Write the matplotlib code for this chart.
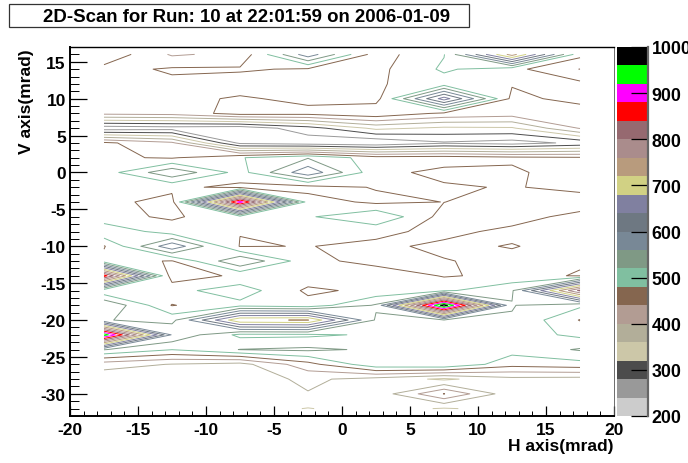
import numpy as np
import matplotlib
matplotlib.use("Agg")
import matplotlib.pyplot as plt
from matplotlib.colors import ListedColormap, BoundaryNorm
from matplotlib.patches import Rectangle
from matplotlib.ticker import MultipleLocator

plt.rcParams['font.family'] = ['Liberation Sans', 'DejaVu Sans']
plt.rcParams['font.weight'] = 'bold'
plt.rcParams['axes.unicode_minus'] = False

W, H = 688, 464

h_centers = [-17.5, -12.5, -7.5, -2.5, 2.5, 7.5, 12.5, 17.5]
v_centers = [16, 14, 12, 10, 8, 6, 4, 2, 0, -2, -4, -6, -8, -10, -12, -14,
             -16, -18, -20, -22, -24, -26, -28, -30, -32]

# scan values per V row
row_p16 = [470, 395, 410, 585, 420, 478, 740, 452]
row_p14 = [427, 445, 445, 435, 428, 487, 452, 399]
row_p12 = [425, 432, 420, 425, 436, 460, 443, 450]
row_p10 = [425, 428, 445, 430, 425, 660, 430, 452]
row_p08 = [410, 415, 456, 452, 470, 432, 420, 420]
row_p06 = [215, 222, 213, 262, 330, 312, 315, 403]
row_p04 = [448, 408, 230, 215, 205, 235, 222, 250]
row_p02 = [446, 436, 477, 517, 458, 460, 450, 445]
row_000 = [460, 552, 464, 590, 452, 429, 430, 470]
row_m02 = [455, 449, 430, 425, 442.5, 445, 437, 452]
row_m04 = [450, 428, 900, 460, 431, 440.5, 422, 418]
row_m06 = [450, 435, 462, 475, 518, 424, 425, 452]
row_m08 = [515, 457, 441, 450, 449, 430, 449, 455]
row_m10 = [437, 590, 438, 441, 432, 448, 438, 455]
row_m12 = [452, 438, 558, 453, 425, 438, 450, 443]
row_m14 = [860, 418, 448, 464, 468, 437, 448, 438]
row_m16 = [449, 467, 502, 432, 450, 472, 515, 810]
row_m18 = [560, 438, 468, 455, 525, 985, 522, 488]
row_m20 = [522, 508, 715, 722, 515, 518, 517, 438]
row_m22 = [945, 555, 470, 472, 486, 503, 500, 470]
row_m24 = [522, 481, 521, 528, 514, 505, 495, 524]
row_m26 = [378, 358, 345, 425, 510, 518, 455, 465]
row_m28 = [330, 335, 340, 368, 345, 312, 348, 345]
row_m30 = [335, 335, 335, 358, 333, 441, 333, 335]
row_m32 = [335, 335, 340, 318, 340, 316, 335, 335]

levels = [200, 240, 280, 320, 360, 400, 440, 480, 520, 560,
          600, 640, 680, 720, 760, 800, 840, 880, 920, 960, 1000]
level_colors = ['#cccccc', '#999999', '#4c4c4c', '#ccc7a8', '#b2ae99', '#b29c93',
                '#85664f', '#80bfa0', '#7f9985', '#788896', '#6e7882', '#8080a0',
                '#d1d184', '#b89b7d', '#aa8c8c', '#966970', '#ff0000', '#ff00ff',
                '#00ff00', '#000000']
palette_ticks = [200, 300, 400, 500, 600, 700, 800, 900, 1000]


def box(left, top, right, bottom):
    return [left / W, 1 - bottom / H, (right - left) / W, (bottom - top) / H]


def main():
    scan = np.array([row_p16, row_p14, row_p12, row_p10, row_p08, row_p06, row_p04,
                     row_p02, row_000, row_m02, row_m04, row_m06, row_m08, row_m10,
                     row_m12, row_m14, row_m16, row_m18, row_m20, row_m22, row_m24,
                     row_m26, row_m28, row_m30, row_m32], dtype=float)

    fig = plt.figure(figsize=(W / 100, H / 100), dpi=100, facecolor='white')

    # main contour frame
    ax = fig.add_axes(box(70, 48, 614, 417))
    ax.contour(h_centers, v_centers, scan, levels=levels[:-1], colors=level_colors,
               linewidths=0.7, linestyles='solid')
    ax.set_xlim(-20, 20)
    ax.set_ylim(-33, 17)

    ax.xaxis.set_major_locator(MultipleLocator(5))
    ax.xaxis.set_minor_locator(MultipleLocator(1))
    ax.yaxis.set_major_locator(MultipleLocator(5))
    ax.yaxis.set_minor_locator(MultipleLocator(1))
    ax.tick_params(axis='x', which='major', direction='in', length=7.5, width=0.9,
                   labelsize=12.5, pad=4)
    ax.tick_params(axis='x', which='minor', direction='in', length=3.8, width=0.7)
    ax.tick_params(axis='y', which='major', direction='in', length=12.3, width=0.9,
                   labelsize=12.5, pad=3)
    ax.tick_params(axis='y', which='minor', direction='in', length=6.5, width=0.7)
    ax.spines['left'].set_linewidth(1.4)
    ax.spines['bottom'].set_linewidth(1.4)
    ax.spines['top'].set_linewidth(1.0)
    ax.spines['right'].set_linewidth(0.6)
    ax.spines['right'].set_color('#555555')

    fig.text(613 / W, 1 - 447 / H, 'H axis(mrad)', ha='right', va='center', fontsize=12.5)
    fig.text(27 / W, 1 - 49 / H, 'V axis(mrad)', ha='center', va='top',
             rotation=90, fontsize=12.5)

    # palette on the right
    cax = fig.add_axes(box(617, 48, 648, 417))
    cmap = ListedColormap(level_colors)
    norm = BoundaryNorm(levels, cmap.N)
    cax.pcolormesh([0, 1], levels, np.array(levels[:-1]).reshape(-1, 1) + 1,
                   cmap=cmap, norm=norm)
    cax.set_xlim(0, 1)
    cax.set_ylim(200, 1000)
    cax.set_xticks([])
    cax.yaxis.tick_right()
    cax.set_yticks(palette_ticks)
    cax.tick_params(axis='y', direction='in', length=12, width=0.9, labelsize=12.8, pad=2.5)
    for side in ['left', 'top', 'bottom']:
        cax.spines[side].set_visible(False)
    cax.spines['right'].set_linewidth(1.6)
    cax.spines['right'].set_color('#666666')

    # title box
    fig.add_artist(Rectangle((8.5 / W, 1 - 27.5 / H), 460.5 / W, 23 / H,
                             transform=fig.transFigure, facecolor='white',
                             edgecolor='#333333', linewidth=0.9))
    fig.text(43 / W, 1 - 17 / H, '2D-Scan for Run: 10 at 22:01:59 on 2006-01-09',
             ha='left', va='center', fontsize=13.4)

    fig.savefig('out.png', dpi=100)


if __name__ == "__main__":
    main()
